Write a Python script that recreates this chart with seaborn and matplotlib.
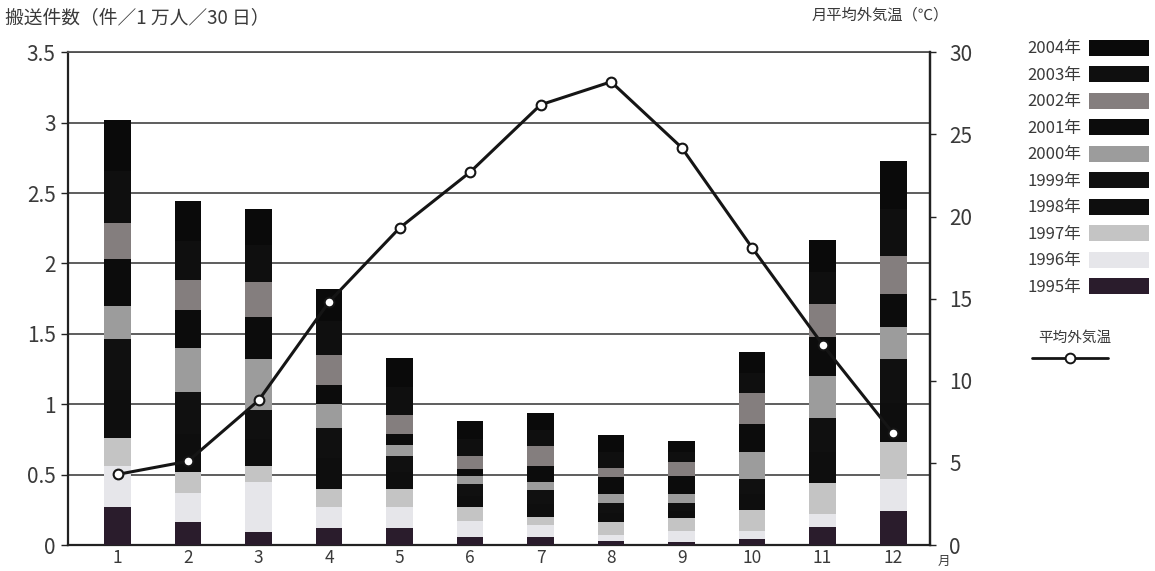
import numpy as np
import matplotlib
matplotlib.use("Agg")
import matplotlib.pyplot as plt
import seaborn as sns
from matplotlib.patches import Patch
from matplotlib.lines import Line2D

# ---------------- data ----------------
months = ["1", "2", "3", "4", "5", "6", "7", "8", "9", "10", "11", "12"]
years = ["1995年", "1996年", "1997年", "1998年", "1999年",
         "2000年", "2001年", "2002年", "2003年", "2004年"]

v1995 = [0.27, 0.16, 0.09, 0.12, 0.12, 0.06, 0.06, 0.03, 0.02, 0.04, 0.13, 0.24]
v1996 = [0.29, 0.21, 0.36, 0.15, 0.15, 0.11, 0.08, 0.04, 0.08, 0.06, 0.09, 0.23]
v1997 = [0.20, 0.15, 0.11, 0.13, 0.13, 0.10, 0.06, 0.09, 0.09, 0.15, 0.22, 0.26]
v1998 = [0.34, 0.27, 0.19, 0.22, 0.12, 0.08, 0.09, 0.07, 0.05, 0.11, 0.22, 0.28]
v1999 = [0.36, 0.30, 0.21, 0.21, 0.11, 0.08, 0.10, 0.07, 0.06, 0.11, 0.24, 0.31]
v2000 = [0.24, 0.31, 0.36, 0.17, 0.08, 0.06, 0.06, 0.06, 0.06, 0.19, 0.30, 0.23]
v2001 = [0.33, 0.27, 0.30, 0.14, 0.08, 0.05, 0.11, 0.12, 0.13, 0.20, 0.28, 0.23]
v2002 = [0.26, 0.21, 0.25, 0.21, 0.13, 0.09, 0.14, 0.07, 0.10, 0.22, 0.23, 0.27]
v2003 = [0.37, 0.28, 0.26, 0.24, 0.20, 0.12, 0.12, 0.11, 0.07, 0.14, 0.23, 0.34]
v2004 = [0.36, 0.28, 0.26, 0.23, 0.21, 0.13, 0.12, 0.12, 0.08, 0.15, 0.23, 0.34]

temperature = [4.3, 5.1, 8.8, 14.8, 19.3, 22.7, 26.8, 28.2, 24.2, 18.1, 12.2, 6.8]

year_colors = ["#2a1c2c", "#e6e6ea", "#c4c4c4", "#0e0e0e", "#101010",
               "#9c9c9c", "#0c0c0c", "#847e7e", "#0f0f0f", "#0a0a0a"]

# ---------------- style ----------------
sns.set_theme(style="white")
plt.rcParams["font.family"] = ["Noto Sans CJK JP", "DejaVu Sans"]
text_color = "#3a3a3a"

fig = plt.figure(figsize=(11.55, 5.71), dpi=100)
ax = fig.add_axes([0.059, 0.0455, 0.746, 0.863])

series = [v1995, v1996, v1997, v1998, v1999, v2000, v2001, v2002, v2003, v2004]
cum = np.cumsum(np.array(series), axis=0)

# draw cumulative totals from top layer down so lower layers overlay
for i in range(len(series) - 1, -1, -1):
    sns.barplot(x=months, y=cum[i], order=months, color=year_colors[i],
                saturation=1, width=0.38, errorbar=None, linewidth=0,
                ax=ax, zorder=3)

ax.set_ylim(0, 3.5)
ax.set_yticks(np.arange(0, 3.51, 0.5))
ax.set_yticklabels(["0", "0.5", "1", "1.5", "2", "2.5", "3", "3.5"])
ax.set_xlim(-0.70, 11.52)
ax.yaxis.grid(True, color="#505050", linewidth=1.3)
ax.xaxis.grid(False)
ax.set_axisbelow(True)
ax.set_xlabel("")
ax.set_ylabel("")
for s in ["left", "bottom", "right"]:
    ax.spines[s].set_color("#222222")
    ax.spines[s].set_linewidth(1.6)
ax.spines["top"].set_color("#505050")
ax.spines["top"].set_linewidth(1.3)
ax.tick_params(axis="y", length=5, width=1, color="#222222", labelsize=15,
               labelcolor=text_color, pad=4, left=True)
ax.tick_params(axis="x", length=0, labelsize=12.5, labelcolor=text_color, pad=3)

# temperature line on secondary axis
ax2 = ax.twinx()
sns.lineplot(x=np.arange(len(months)), y=temperature, ax=ax2, color="#151515",
             linewidth=2.2, marker="o", markersize=7, markerfacecolor="white",
             markeredgecolor="#151515", markeredgewidth=1.5, zorder=5)
ax2.set_ylim(0, 30)
ax2.set_yticks(range(0, 31, 5))
ax2.set_xlim(-0.70, 11.52)
ax2.set_ylabel("")
for s in ["left", "bottom", "top"]:
    ax2.spines[s].set_visible(False)
ax2.spines["right"].set_color("#222222")
ax2.spines["right"].set_linewidth(1.6)
ax2.tick_params(axis="y", length=4, width=1, color="#222222", labelsize=15,
                labelcolor=text_color, pad=10, right=True)

# titles / unit labels
fig.text(0.004, 1 - 18 / 571, "搬送件数（件／1 万人／30 日）", fontsize=13.5,
         color=text_color, va="center", ha="left")
fig.text(812 / 1155, 1 - 15 / 571, "月平均外気温（℃）", fontsize=11,
         color=text_color, va="center", ha="left")
fig.text(938 / 1155, 1 - 561 / 571, "月", fontsize=9, color=text_color,
         va="center", ha="left")

# legends
handles = [Patch(facecolor=year_colors[i], edgecolor="none") for i in range(len(years) - 1, -1, -1)]
labels = [years[i] for i in range(len(years) - 1, -1, -1)]
leg1 = fig.legend(handles, labels, loc="upper left",
                  bbox_to_anchor=(1021 / 1155, 1 - 33 / 571), frameon=False,
                  markerfirst=False, handlelength=3.6, handleheight=1.1,
                  labelspacing=0.53, fontsize=12, handletextpad=0.45,
                  borderaxespad=0, labelcolor=text_color)

line_handle = Line2D([0], [0], color="#151515", linewidth=2, marker="o",
                     markersize=7, markerfacecolor="white",
                     markeredgecolor="#151515", markeredgewidth=1.4)
leg2 = fig.legend([line_handle], [""], loc="upper left",
                  bbox_to_anchor=(1026 / 1155, 1 - 325 / 571), frameon=False,
                  handlelength=5.5, fontsize=10, title="平均外気温",
                  title_fontsize=10.5, borderaxespad=0)
leg2.get_title().set_color(text_color)

fig.savefig("out.png", dpi=100)
